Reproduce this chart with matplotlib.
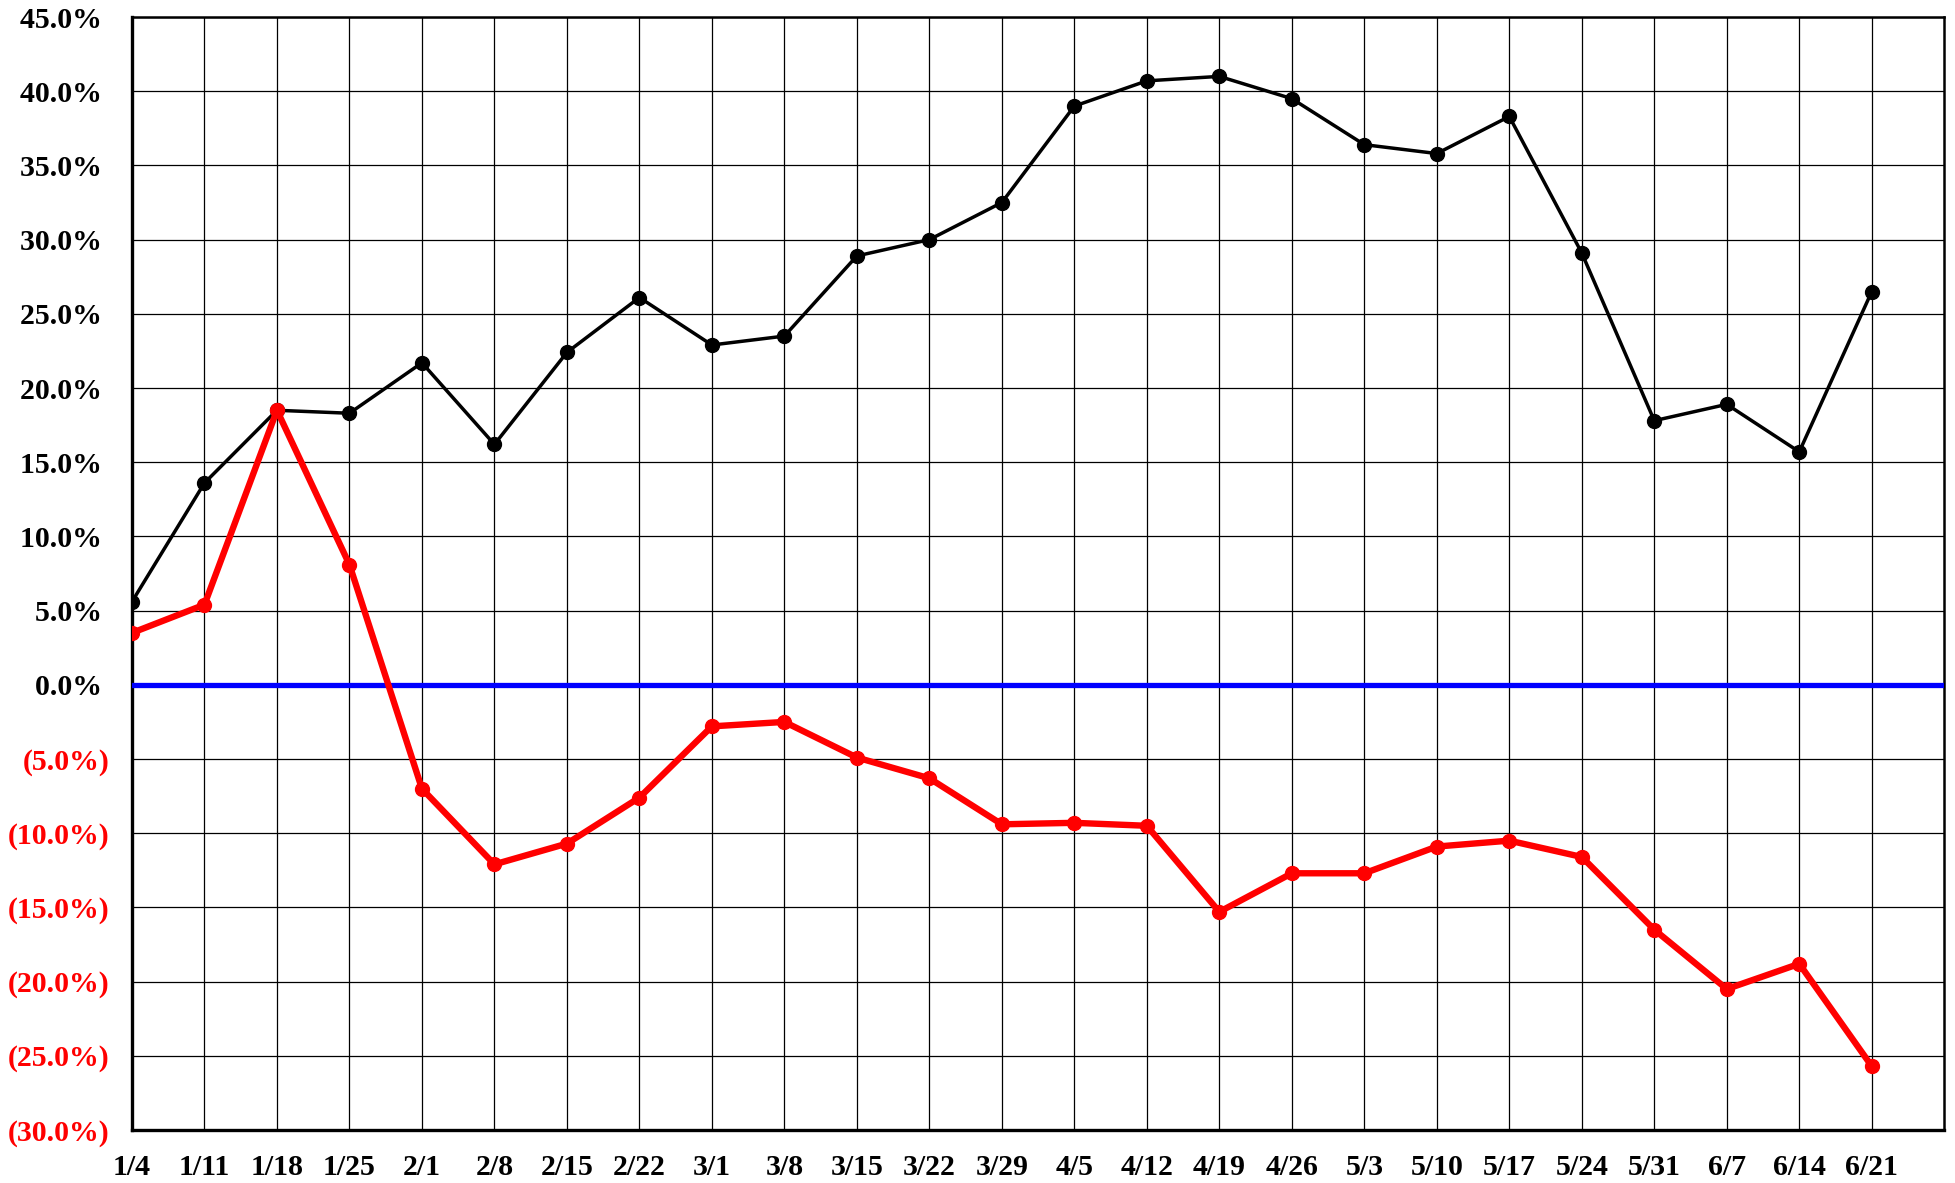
import numpy as np
import matplotlib
matplotlib.use("Agg")
import matplotlib.pyplot as plt

# weekly dates (x categories)
dates = ['1/4', '1/11', '1/18', '1/25', '2/1', '2/8', '2/15', '2/22', '3/1', '3/8',
         '3/15', '3/22', '3/29', '4/5', '4/12', '4/19', '4/26', '5/3', '5/10', '5/17',
         '5/24', '5/31', '6/7', '6/14', '6/21']

# black series (%)
black_vals = [5.6, 13.6, 18.5, 18.3, 21.7, 16.2, 22.4, 26.1, 22.9, 23.5,
              28.9, 30.0, 32.5, 39.0, 40.7, 41.0, 39.5, 36.4, 35.8, 38.3,
              29.1, 17.8, 18.9, 15.7, 26.5]

# red series (%)
red_vals = [3.5, 5.4, 18.5, 8.1, -7.0, -12.1, -10.7, -7.6, -2.8, -2.5,
            -4.9, -6.3, -9.4, -9.3, -9.5, -15.3, -12.7, -12.7, -10.9, -10.5,
            -11.6, -16.5, -20.5, -18.8, -25.7]

y_ticks = np.arange(-30, 46, 5)

plt.rcParams['font.family'] = ['Liberation Serif', 'DejaVu Serif']
plt.rcParams['font.weight'] = 'bold'

fig = plt.figure(figsize=(19.55, 11.83), dpi=100)
ax = fig.add_axes([0.0675, 0.0448, 0.927, 0.9408])

x = np.arange(len(dates))

ax.axhline(0, color='#0000ff', lw=3.8, zorder=3)
ax.plot(x, black_vals, color='black', lw=2.5, marker='o', ms=10, zorder=4)
ax.plot(x, red_vals, color='#ff0000', lw=4.6, marker='o', ms=10, zorder=5)

ax.set_xlim(0, len(dates))
ax.set_ylim(-30, 45)
ax.set_xticks(x)
ax.set_xticklabels(dates, fontsize=21.5, fontweight='bold')
ax.set_yticks(y_ticks)

labels = []
for v in y_ticks:
    if v < 0:
        labels.append('(%.1f%%)' % abs(v))
    else:
        labels.append('%.1f%% ' % v)
ax.set_yticklabels(labels, fontsize=21.5, fontweight='bold')
for lab, v in zip(ax.get_yticklabels(), y_ticks):
    lab.set_color('#ff0000' if v < 0 else 'black')

ax.tick_params(axis='both', length=0)
ax.tick_params(axis='x', pad=17)
ax.tick_params(axis='y', pad=16)

ax.grid(True, color='black', lw=0.9)
ax.set_axisbelow(True)
for side in ['left', 'bottom']:
    ax.spines[side].set_linewidth(2.4)
for side in ['top', 'right']:
    ax.spines[side].set_linewidth(1.8)

fig.savefig('out.png', dpi=100)
